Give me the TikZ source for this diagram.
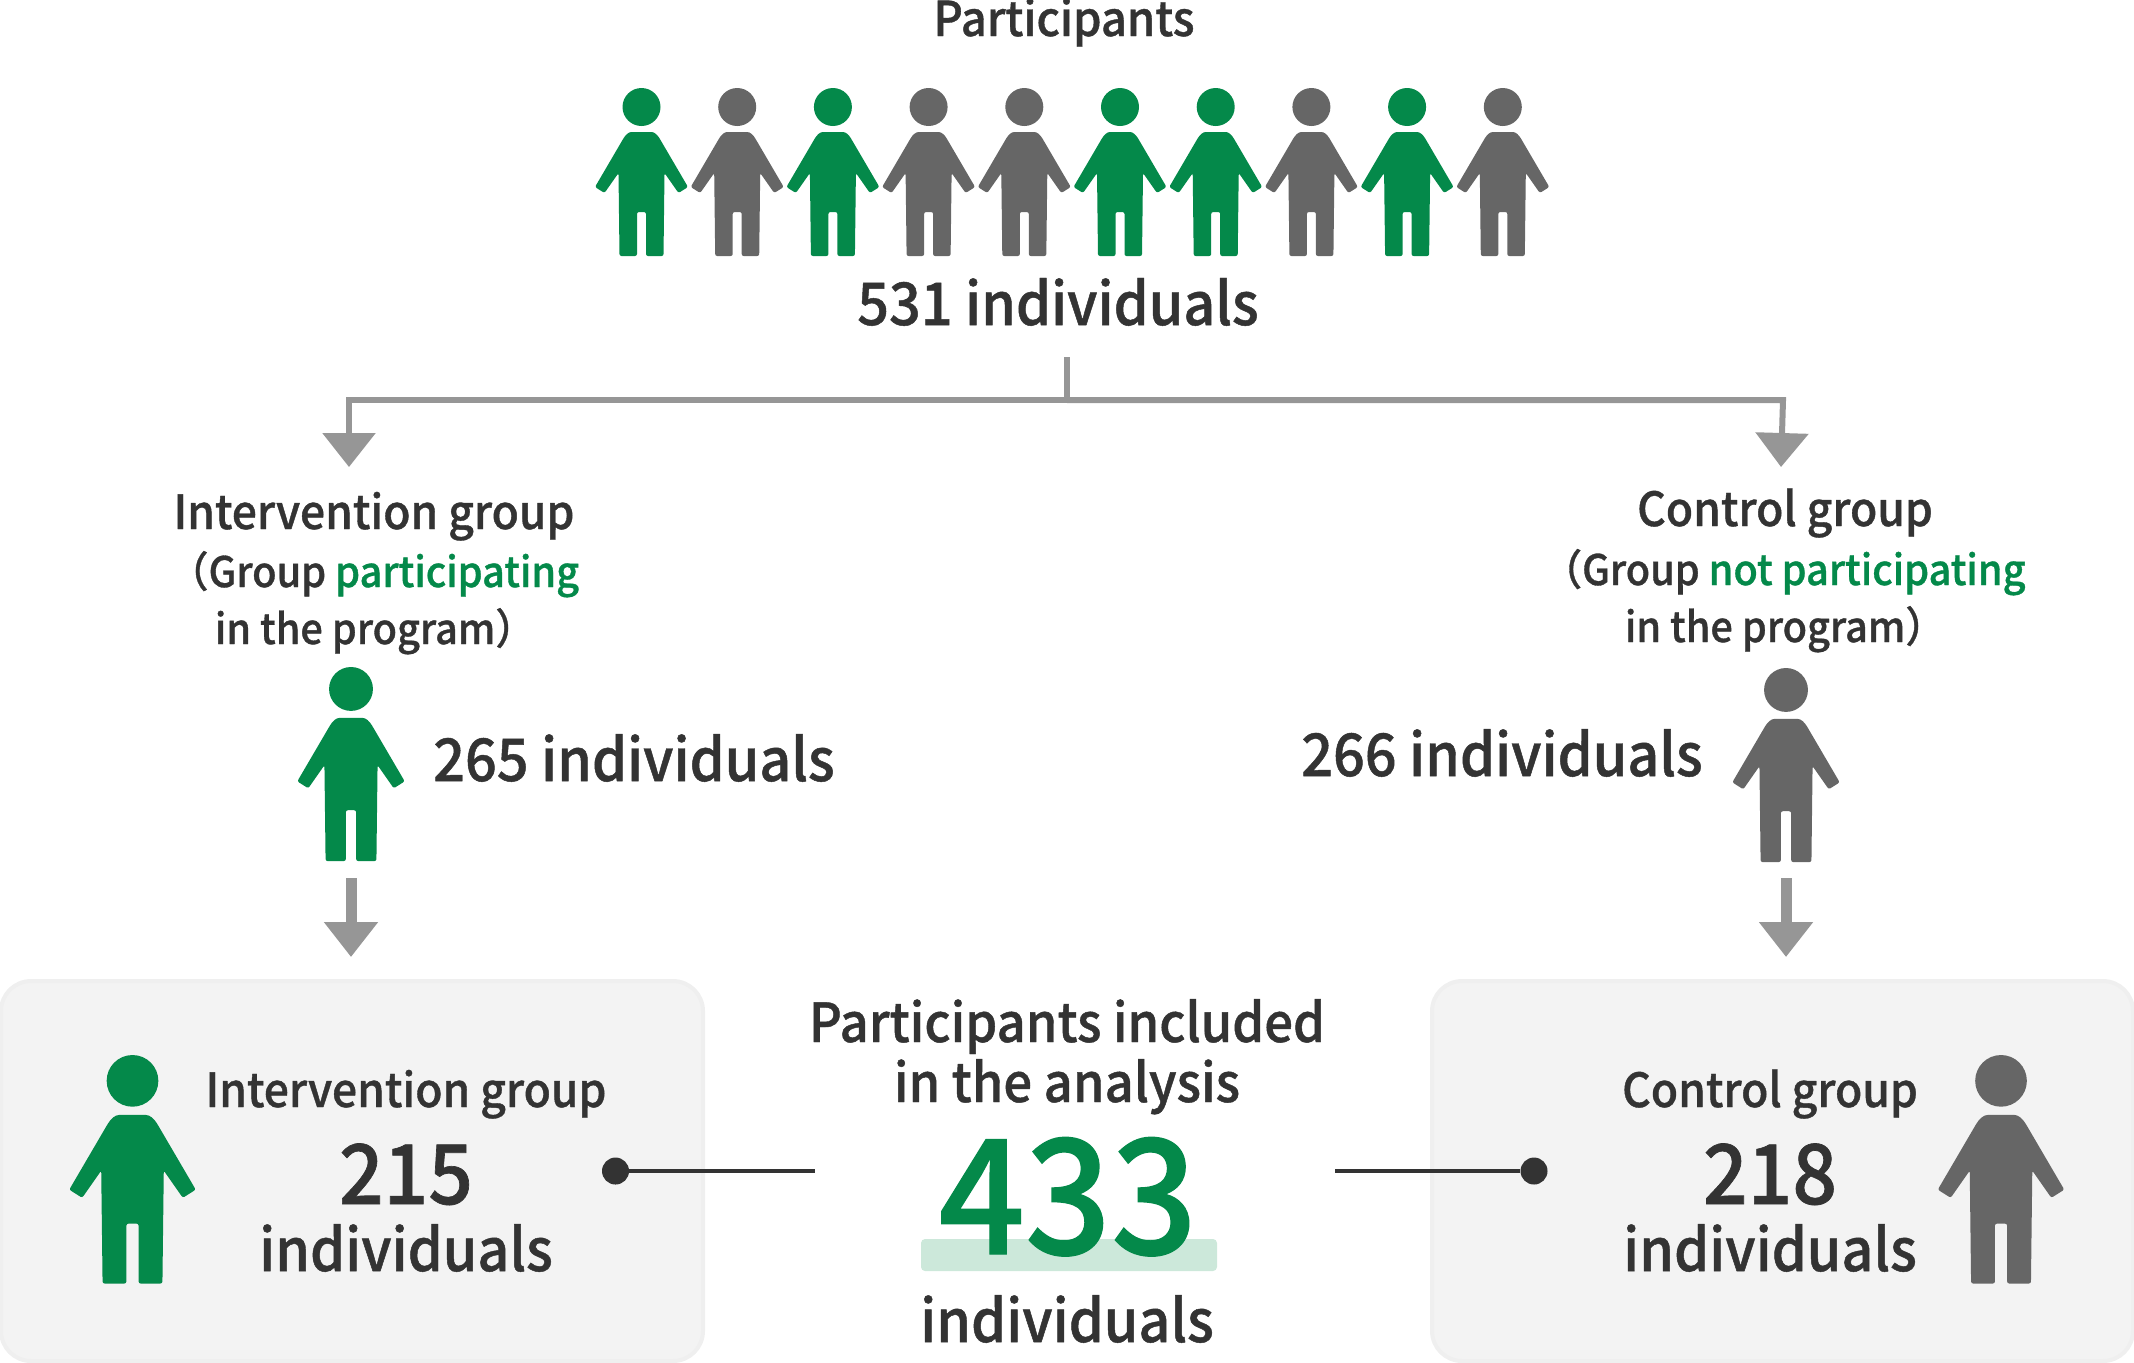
\documentclass[tikz,border=0pt]{standalone}
\usepackage{fontspec}
\setmainfont{Noto Sans CJK JP Medium}[FakeStretch=0.945,FakeBold=0.8]
\usetikzlibrary{arrows.meta}
\definecolor{grn}{HTML}{04894A}
\definecolor{gry}{HTML}{666666}
\definecolor{ink}{HTML}{333333}
\definecolor{lnk}{HTML}{969696}
\definecolor{pale}{HTML}{CCE8DA}
\definecolor{panel}{HTML}{F3F3F3}
\definecolor{panelrim}{HTML}{EFEFEF}
\tikzset{
  pics/person/.style={code={
    \fill[pic actions] (0,19) circle (19);
    \fill[pic actions, rounded corners=1]
      (0,44) -- (8,44) .. controls (13,44) and (16,47) .. (19,52)
      -- (46.5,99) -- (37,105) -- (23,85) -- (22,168) -- (4.5,168) -- (4.5,124)
      -- (-4.5,124) -- (-4.5,168) -- (-22,168) -- (-23,85) -- (-37,105) -- (-46.5,99)
      -- (-19,52) .. controls (-16,47) and (-13,44) .. (-8,44) -- cycle;
  }},
  txt/.style={inner sep=0pt, anchor=base, text=ink, align=center},
  big/.style={txt, font=\fontsize{29.5}{35}\selectfont},
  inc/.style={txt, font=\fontsize{26.9}{32}\selectfont},
  mid/.style={txt, font=\fontsize{23.5}{28}\selectfont},
  sml/.style={txt, font=\fontsize{21}{25}\selectfont},
  pnl/.style={fill=panel, draw=panelrim, line width=2pt, rounded corners=15pt},
  branch/.style={draw=lnk, line width=3pt},
  drop/.style={draw=lnk, line width=5.5pt, -{Triangle[width=26pt,length=17.5pt,fill=lnk]}},
  tip/.style={draw=lnk, line width=3pt, -{Triangle[width=26pt,length=17pt,fill=lnk]}},
  lead/.style={draw=ink, line width=2.4pt},
  dotn/.style={circle, fill=ink, inner sep=0pt, minimum size=13.5pt}
}
\begin{document}
\begin{tikzpicture}[x=0.5pt,y=-0.5pt]
  \useasboundingbox (0,0) rectangle (2134,1362);

  % Panels
  \draw[pnl] (1,981) rectangle (703,1361);
  \draw[pnl] (1432,981) rectangle (2133,1361);

  % Top row
  \node[txt, font=\fontsize{24}{28}\selectfont] (title) at (1064,36) {Participants};
  \foreach \i/\c in {0/grn,1/gry,2/grn,3/gry,4/gry,5/grn,6/grn,7/gry,8/grn,9/gry}
    \pic[fill=\c] at ({641.5+95.7*\i},88) {person};
  \node[big] (total) at (1058,325) {531 individuals};

  % Branch to the two groups
  \coordinate (T0) at (1067,357);
  \coordinate (T1) at (1067,400);
  \coordinate (TL) at (349,400);
  \coordinate (TR) at (1783,400);
  \coordinate (AL) at (349,467);
  \coordinate (AR) at (1781,467);
  \draw[branch] (T0) -- (T1);
  \draw[tip, line join=miter] (T1) -- (TL) -- (AL);
  \draw[tip, line join=miter] (T1) -- (TR) -- (AR);

  % Intervention group
  \node[mid] (igroup) at (374,529) {Intervention group};
  \node[sml] (iwho) at (374,587) {（Group \textcolor{grn}{participating}};
  \node[sml] (iprog) at (375,644) {in the program）};
  \pic[fill=grn, scale=1.155] at (351,667) {person};
  \node[big] (icount) at (634,781) {265 individuals};

  % Control group
  \node[mid] (cgroup) at (1785,526) {Control group};
  \node[sml] (cwho) at (1784,585) {（Group \textcolor{grn}{not participating}};
  \node[sml] (cprog) at (1785,642) {in the program）};
  \pic[fill=gry, scale=1.155] at (1786,668) {person};
  \node[big] (ccount) at (1502,776) {266 individuals};

  % Arrows down to the panels
  \coordinate (DL0) at (351,878);
  \coordinate (DL1) at (351,957);
  \coordinate (DR0) at (1786,878);
  \coordinate (DR1) at (1786,957);
  \draw[drop] (DL0) -- (DL1);
  \draw[drop] (DR0) -- (DR1);

  % Left panel
  \pic[fill=grn, scale=1.36] at (132.5,1055) {person};
  \node[mid] (ilabel) at (406,1107) {Intervention group};
  \node[txt, font=\fontsize{41.5}{48}\selectfont] (inum) at (406,1204) {215};
  \node[big] (iunit) at (406,1271) {individuals};

  % Right panel
  \pic[fill=gry, scale=1.36] at (2001,1055) {person};
  \node[mid] (clabel) at (1770,1107) {Control group};
  \node[txt, font=\fontsize{41.5}{48}\selectfont] (cnum) at (1770,1204) {218};
  \node[big] (cunit) at (1770,1271) {individuals};

  % Centre column
  \fill[pale, rounded corners=2pt] (921,1239) rectangle (1217,1271);
  \node[inc] (inc1) at (1067,1042) {Participants included};
  \node[inc] (inc2) at (1067,1102) {in the analysis};
  \node[txt, text=grn, font=\fontsize{80}{90}\selectfont] (sum) at (1068,1254) {433};
  \node[big] (sumunit) at (1067,1342) {individuals};

  % Leader lines
  \node[dotn] (dotL) at (615.5,1171) {};
  \node[dotn] (dotR) at (1534,1171) {};
  \coordinate (endL) at (815,1171);
  \coordinate (endR) at (1335,1171);
  \draw[lead] (dotL) -- (endL);
  \draw[lead] (endR) -- (dotR);
\end{tikzpicture}
\end{document}
